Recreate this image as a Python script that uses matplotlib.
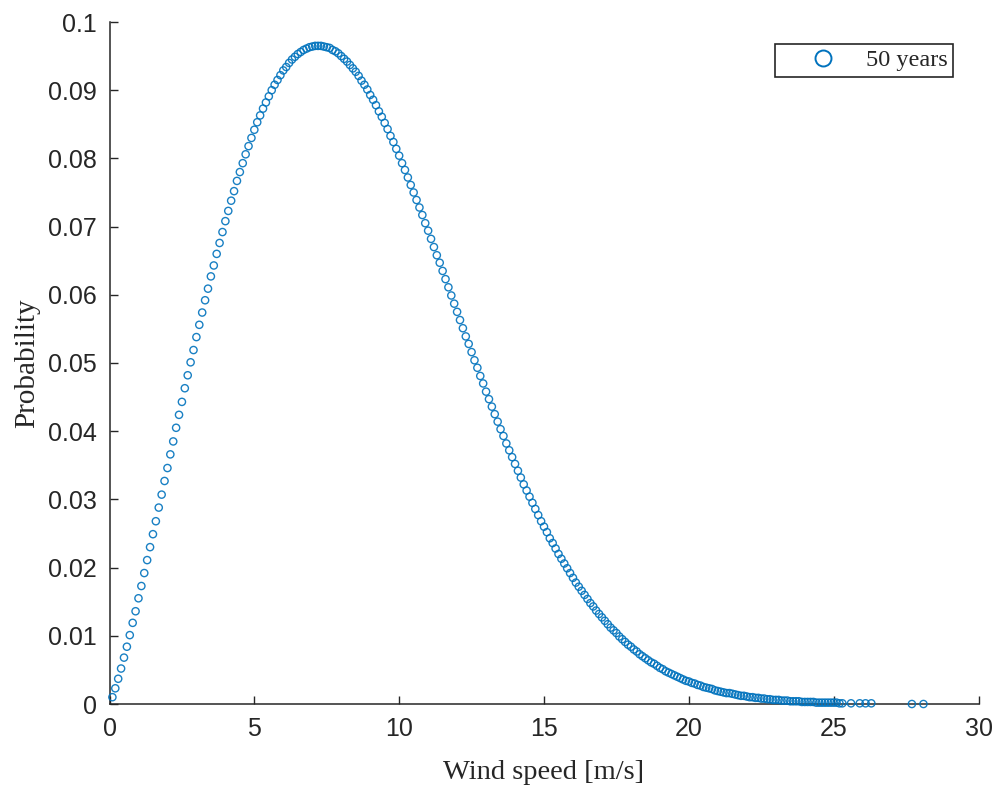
import matplotlib
matplotlib.use('Agg')
import matplotlib.pyplot as plt
from matplotlib.lines import Line2D

# wind speed samples [m/s] and their probability
wind_speed = [
    0.1, 0.2, 0.3, 0.4, 0.5, 0.6, 0.7, 0.8, 0.9, 1.0, 1.1, 1.2,
    1.3, 1.4, 1.5, 1.6, 1.7, 1.8, 1.9, 2.0, 2.1, 2.2, 2.3, 2.4,
    2.5, 2.6, 2.7, 2.8, 2.9, 3.0, 3.1, 3.2, 3.3, 3.4, 3.5, 3.6,
    3.7, 3.8, 3.9, 4.0, 4.1, 4.2, 4.3, 4.4, 4.5, 4.6, 4.7, 4.8,
    4.9, 5.0, 5.1, 5.2, 5.3, 5.4, 5.5, 5.6, 5.7, 5.8, 5.9, 6.0,
    6.1, 6.2, 6.3, 6.4, 6.5, 6.6, 6.7, 6.8, 6.9, 7.0, 7.1, 7.2,
    7.3, 7.4, 7.5, 7.6, 7.7, 7.8, 7.9, 8.0, 8.1, 8.2, 8.3, 8.4,
    8.5, 8.6, 8.7, 8.8, 8.9, 9.0, 9.1, 9.2, 9.3, 9.4, 9.5, 9.6,
    9.7, 9.8, 9.9, 10.0, 10.1, 10.2, 10.3, 10.4, 10.5, 10.6, 10.7, 10.8,
    10.9, 11.0, 11.1, 11.2, 11.3, 11.4, 11.5, 11.6, 11.7, 11.8, 11.9, 12.0,
    12.1, 12.2, 12.3, 12.4, 12.5, 12.6, 12.7, 12.8, 12.9, 13.0, 13.1, 13.2,
    13.3, 13.4, 13.5, 13.6, 13.7, 13.8, 13.9, 14.0, 14.1, 14.2, 14.3, 14.4,
    14.5, 14.6, 14.7, 14.8, 14.9, 15.0, 15.1, 15.2, 15.3, 15.4, 15.5, 15.6,
    15.7, 15.8, 15.9, 16.0, 16.1, 16.2, 16.3, 16.4, 16.5, 16.6, 16.7, 16.8,
    16.9, 17.0, 17.1, 17.2, 17.3, 17.4, 17.5, 17.6, 17.7, 17.8, 17.9, 18.0,
    18.1, 18.2, 18.3, 18.4, 18.5, 18.6, 18.7, 18.8, 18.9, 19.0, 19.1, 19.2,
    19.3, 19.4, 19.5, 19.6, 19.7, 19.8, 19.9, 20.0, 20.1, 20.2, 20.3, 20.4,
    20.5, 20.6, 20.7, 20.8, 20.9, 21.0, 21.1, 21.2, 21.3, 21.4, 21.5, 21.6,
    21.7, 21.8, 21.9, 22.0, 22.1, 22.2, 22.3, 22.4, 22.5, 22.6, 22.7, 22.8,
    22.9, 23.0, 23.1, 23.2, 23.3, 23.4, 23.5, 23.6, 23.7, 23.8, 23.9, 24.0,
    24.1, 24.2, 24.3, 24.4, 24.5, 24.6, 24.7, 24.8, 24.9, 25.0, 25.1, 25.2,
    25.3, 25.6, 25.9, 26.1, 26.3, 27.7, 28.1,
]

probability = [
    0.0010, 0.0023, 0.0037, 0.0052, 0.0068, 0.0084, 0.0101, 0.0119, 0.0136, 0.0155, 0.0173, 0.0192,
    0.0211, 0.0230, 0.0249, 0.0268, 0.0288, 0.0307, 0.0327, 0.0346, 0.0366, 0.0385, 0.0405, 0.0424,
    0.0443, 0.0463, 0.0482, 0.0501, 0.0519, 0.0538, 0.0556, 0.0574, 0.0592, 0.0609, 0.0627, 0.0643,
    0.0660, 0.0676, 0.0692, 0.0708, 0.0723, 0.0738, 0.0752, 0.0767, 0.0780, 0.0793, 0.0806, 0.0818,
    0.0830, 0.0842, 0.0853, 0.0863, 0.0873, 0.0882, 0.0891, 0.0900, 0.0908, 0.0915, 0.0922, 0.0929,
    0.0934, 0.0940, 0.0945, 0.0949, 0.0953, 0.0956, 0.0959, 0.0961, 0.0963, 0.0964, 0.0965, 0.0965,
    0.0965, 0.0964, 0.0963, 0.0962, 0.0959, 0.0957, 0.0954, 0.0950, 0.0946, 0.0942, 0.0937, 0.0932,
    0.0927, 0.0921, 0.0914, 0.0908, 0.0901, 0.0893, 0.0886, 0.0878, 0.0869, 0.0861, 0.0852, 0.0843,
    0.0833, 0.0824, 0.0814, 0.0804, 0.0793, 0.0783, 0.0772, 0.0761, 0.0750, 0.0739, 0.0728, 0.0717,
    0.0705, 0.0694, 0.0682, 0.0670, 0.0658, 0.0647, 0.0635, 0.0623, 0.0611, 0.0599, 0.0587, 0.0575,
    0.0563, 0.0551, 0.0539, 0.0528, 0.0516, 0.0504, 0.0493, 0.0481, 0.0470, 0.0458, 0.0447, 0.0436,
    0.0425, 0.0414, 0.0403, 0.0393, 0.0382, 0.0372, 0.0362, 0.0352, 0.0342, 0.0332, 0.0322, 0.0313,
    0.0304, 0.0295, 0.0286, 0.0277, 0.0268, 0.0260, 0.0252, 0.0243, 0.0236, 0.0228, 0.0220, 0.0213,
    0.0206, 0.0199, 0.0192, 0.0185, 0.0178, 0.0172, 0.0166, 0.0160, 0.0154, 0.0148, 0.0143, 0.0137,
    0.0132, 0.0127, 0.0122, 0.0117, 0.0112, 0.0108, 0.0104, 0.0099, 0.0095, 0.0091, 0.0087, 0.0084,
    0.0080, 0.0077, 0.0073, 0.0070, 0.0067, 0.0064, 0.0061, 0.0059, 0.0056, 0.0053, 0.0051, 0.0048,
    0.0046, 0.0044, 0.0042, 0.0040, 0.0038, 0.0036, 0.0034, 0.0033, 0.0031, 0.0030, 0.0028, 0.0027,
    0.0025, 0.0024, 0.0023, 0.0022, 0.0020, 0.0019, 0.0018, 0.0017, 0.0016, 0.0016, 0.0015, 0.0014,
    0.0013, 0.0012, 0.0012, 0.0011, 0.0010, 0.0010, 0.0009, 0.0009, 0.0008, 0.0008, 0.0007, 0.0007,
    0.0006, 0.0006, 0.0006, 0.0005, 0.0005, 0.0005, 0.0004, 0.0004, 0.0004, 0.0004, 0.0003, 0.0003,
    0.0003, 0.0003, 0.0003, 0.0002, 0.0002, 0.0002, 0.0002, 0.0002, 0.0002, 0.0002, 0.0002, 0.0001,
    0.0001, 0.0001, 0.0001, 0.0001, 0.0001, 0.0000, 0.0000,
]

x_ticks = [0, 5, 10, 15, 20, 25, 30]
y_ticks = [0, 0.01, 0.02, 0.03, 0.04, 0.05, 0.06, 0.07, 0.08, 0.09, 0.1]
y_tick_labels = ['0', '0.01', '0.02', '0.03', '0.04', '0.05', '0.06', '0.07', '0.08', '0.09', '0.1']

BLUE = '#0072BD'
AXIS_GREY = '#262626'

fig = plt.figure(figsize=(9.96, 7.91), dpi=100)
ax = fig.add_axes([109.5 / 996, 1 - 704 / 791, (978.5 - 109.5) / 996, (704 - 22) / 791])

ax.scatter(wind_speed, probability, s=27, facecolors='none', edgecolors=BLUE,
           linewidths=1.0, alpha=0.9, clip_on=False, zorder=3)

ax.set_xlim(0, 30)
ax.set_ylim(0, 0.1)
ax.set_xticks(x_ticks)
ax.set_yticks(y_ticks)
ax.set_yticklabels(y_tick_labels)

for side in ['top', 'right']:
    ax.spines[side].set_visible(False)
for side in ['left', 'bottom']:
    ax.spines[side].set_color(AXIS_GREY)
    ax.spines[side].set_linewidth(1.1)

ax.tick_params(direction='in', length=6, width=1.0, color=AXIS_GREY,
               labelcolor=AXIS_GREY, labelsize=18, pad=9)
for lab in ax.get_xticklabels() + ax.get_yticklabels():
    lab.set_family('Liberation Sans')

ax.set_xlabel('Wind speed [m/s]', family='Liberation Serif', fontsize=20.5,
              color=AXIS_GREY, labelpad=14)
ax.set_ylabel('Probability', family='Liberation Serif', fontsize=21,
              color=AXIS_GREY, labelpad=6)

handle = Line2D([], [], linestyle='none', marker='o', markersize=11.5,
                markerfacecolor='none', markeredgecolor=BLUE, markeredgewidth=1.4)
leg = ax.legend([handle], ['50 years'], loc='upper right',
                bbox_to_anchor=(953 / 996, 1 - 44 / 791), bbox_transform=fig.transFigure,
                borderaxespad=0, fancybox=False, framealpha=1, edgecolor=AXIS_GREY,
                prop={'family': 'Liberation Serif', 'size': 17.5},
                handlelength=3.5, handletextpad=0.0, borderpad=0.22)
leg.get_frame().set_linewidth(1.2)
for t in leg.get_texts():
    t.set_color(AXIS_GREY)

fig.savefig('out.png', dpi=100)
